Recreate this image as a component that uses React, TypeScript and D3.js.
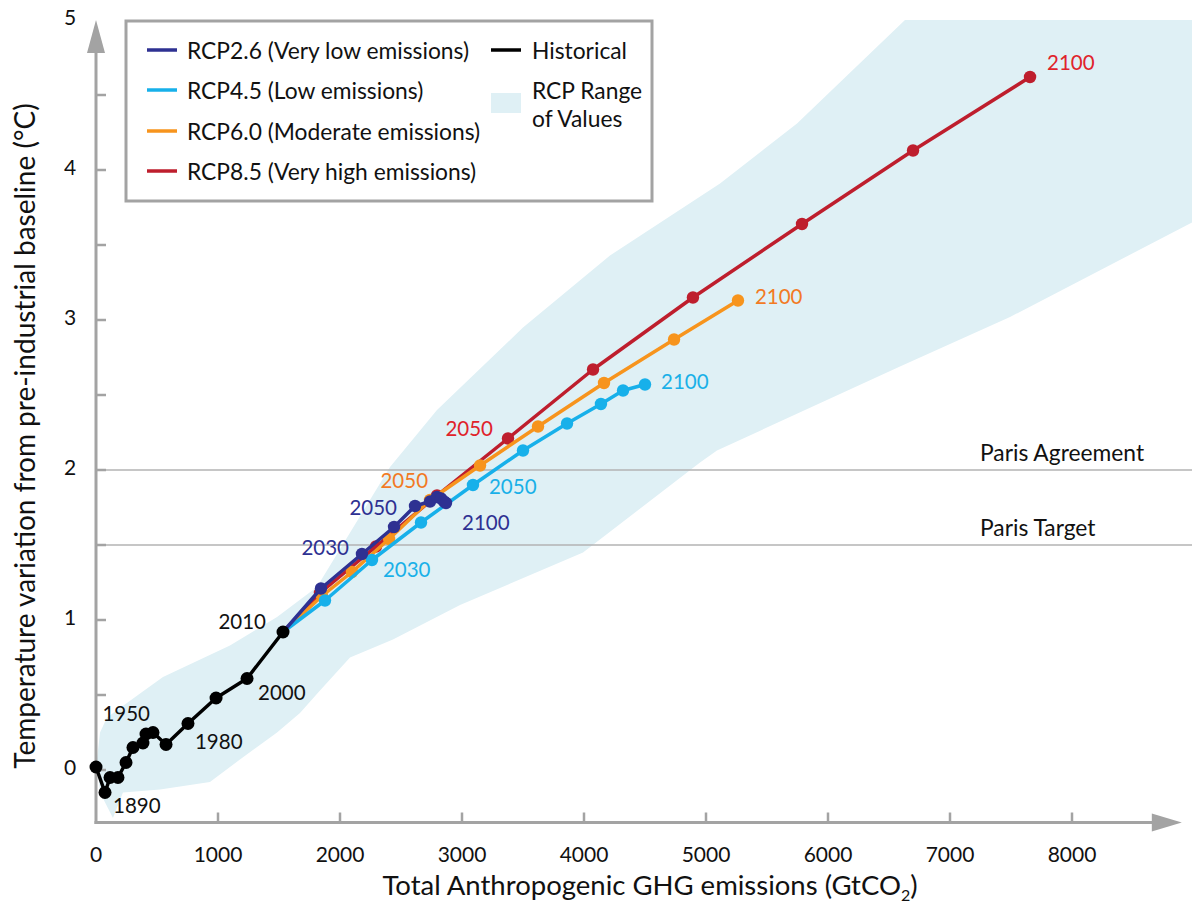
import React from "react";
import * as d3 from "d3";

// Historical record (decadal), cumulative emissions GtCO2 vs warming °C
const HIST_YEARS = [1880, 1890, 1900, 1910, 1920, 1930, 1940, 1950, 1960, 1970, 1980, 1990, 2000, 2010];
const HIST_EMISSIONS = [0, 74, 115, 180, 246, 303, 385, 410, 467, 574, 754, 984, 1238, 1533];
const HIST_TEMP = [0.02, -0.15, -0.05, -0.05, 0.05, 0.15, 0.18, 0.24, 0.25, 0.17, 0.31, 0.48, 0.61, 0.92];

// Scenario projections, 2010–2100 every decade
const RCP_YEARS = [2010, 2020, 2030, 2040, 2050, 2060, 2070, 2080, 2090, 2100];
const RCP26_EMISSIONS = [1533, 1844, 2180, 2443, 2615, 2738, 2795, 2828, 2853, 2869];
const RCP26_TEMP = [0.92, 1.21, 1.44, 1.62, 1.76, 1.79, 1.82, 1.81, 1.79, 1.78];
const RCP45_EMISSIONS = [1533, 1877, 2262, 2664, 3090, 3500, 3861, 4139, 4320, 4500];
const RCP45_TEMP = [0.92, 1.13, 1.4, 1.65, 1.9, 2.13, 2.31, 2.44, 2.53, 2.57];
const RCP60_EMISSIONS = [1533, 1852, 2098, 2402, 2738, 3148, 3623, 4164, 4738, 5262];
const RCP60_TEMP = [0.92, 1.16, 1.32, 1.54, 1.8, 2.03, 2.29, 2.58, 2.87, 3.13];
const RCP85_EMISSIONS = [1533, 1836, 2295, 2795, 3377, 4074, 4893, 5787, 6697, 7656];
const RCP85_TEMP = [0.92, 1.18, 1.49, 1.83, 2.21, 2.67, 3.15, 3.64, 4.13, 4.62];

// Envelope of all RCP values
const RANGE_UPPER_EMISSIONS = [8, 33, 90, 361, 549, 1098, 1484, 1811, 2410, 2795, 3500, 4213, 5115, 5746, 6631, 8984];
const RANGE_UPPER_TEMP = [0.07, 0.25, 0.35, 0.51, 0.62, 0.83, 1.02, 1.22, 2.02, 2.4, 2.95, 3.43, 3.91, 4.31, 5.0, 5.0];
const RANGE_LOWER_EMISSIONS = [8984, 7492, 6590, 5090, 4951, 3992, 2984, 2434, 2082, 1836, 1672, 1484, 1180, 934, 525, 221, 139, 33];
const RANGE_LOWER_TEMP = [3.65, 3.02, 2.69, 2.13, 2.05, 1.45, 1.1, 0.87, 0.75, 0.53, 0.38, 0.25, 0.07, -0.08, -0.13, -0.15, -0.32, -0.15];

const X_TICKS = [0, 1000, 2000, 3000, 4000, 5000, 6000, 7000, 8000];
const Y_TICKS = [0, 1, 2, 3, 4, 5];
const Y_TICK_MARKS = [0, 0.5, 1, 1.5, 2, 2.5, 3, 3.5, 4, 4.5];

const PARIS_LEVELS = [2, 1.5];
const PARIS_LABELS = ["Paris Agreement", "Paris Target"];

const SERIES_KEYS = ["rcp26", "rcp45", "rcp60", "rcp85"];
const SERIES_NAMES = [
  "RCP2.6 (Very low emissions)",
  "RCP4.5 (Low emissions)",
  "RCP6.0 (Moderate emissions)",
  "RCP8.5 (Very high emissions)",
];

const HIST_LABEL_YEARS = [1890, 1950, 1980, 2000, 2010];
const RCP_LABEL_YEARS: Record<string, number[]> = {
  rcp26: [2030, 2050, 2100],
  rcp45: [2030, 2050, 2100],
  rcp60: [2050, 2100],
  rcp85: [2050, 2100],
};

const LINE_COLORS: Record<string, string> = {
  hist: "#000000",
  rcp26: "#2e3192",
  rcp45: "#17b0ea",
  rcp60: "#f7941d",
  rcp85: "#be1e2d",
};
const LABEL_COLORS: Record<string, string> = {
  hist: "#111111",
  rcp26: "#2e3192",
  rcp45: "#1ab0e8",
  rcp60: "#f27a24",
  rcp85: "#e0232b",
};

// label placement relative to its point: [dx, dy, anchor]
const LABEL_OFFSETS: Record<string, [number, number, string]> = {
  "hist-1890": [8, 20, "start"],
  "hist-1950": [4, -13, "end"],
  "hist-1980": [7, 25, "start"],
  "hist-2000": [11, 21, "start"],
  "hist-2010": [-17, -3, "end"],
  "rcp26-2030": [-13, 1, "end"],
  "rcp26-2050": [-18, 9, "end"],
  "rcp26-2100": [16, 27, "start"],
  "rcp45-2030": [11, 17, "start"],
  "rcp45-2050": [16, 9, "start"],
  "rcp45-2100": [16, 4, "start"],
  "rcp60-2050": [-2, -12, "end"],
  "rcp60-2100": [17, 3, "start"],
  "rcp85-2050": [-15, -3, "end"],
  "rcp85-2100": [17, -7, "start"],
};

const FONT = "Lato, 'Noto Sans', sans-serif";
const AXIS_COLOR = "#a3a3a3";

type Pt = { x: number; y: number; year: number };

function zipSeries(years: number[], xs: number[], ys: number[]): Pt[] {
  return years.map((year, i) => ({ year, x: xs[i], y: ys[i] }));
}

export default function App() {
  const width = 1192;
  const height = 915;

  const x = d3.scaleLinear().domain([0, 8000]).range([96, 1072]);
  const y = d3.scaleLinear().domain([0, 5]).range([770, 20]);

  const axisBottom = y(-0.35);
  const axisLeft = x(0);
  const xArrowTip = x(8900);
  const yArrowTip = y(5);

  const series: Record<string, Pt[]> = {
    rcp26: zipSeries(RCP_YEARS, RCP26_EMISSIONS, RCP26_TEMP),
    rcp45: zipSeries(RCP_YEARS, RCP45_EMISSIONS, RCP45_TEMP),
    rcp60: zipSeries(RCP_YEARS, RCP60_EMISSIONS, RCP60_TEMP),
    rcp85: zipSeries(RCP_YEARS, RCP85_EMISSIONS, RCP85_TEMP),
  };
  const hist = zipSeries(HIST_YEARS, HIST_EMISSIONS, HIST_TEMP);

  const line = d3
    .line<Pt>()
    .x((d) => x(d.x))
    .y((d) => y(d.y));

  const rangePts: [number, number][] = [
    ...RANGE_UPPER_EMISSIONS.map((e, i) => [x(e), y(RANGE_UPPER_TEMP[i])] as [number, number]),
    ...RANGE_LOWER_EMISSIONS.map((e, i) => [x(e), y(RANGE_LOWER_TEMP[i])] as [number, number]),
  ];
  const rangePath = d3.line().curve(d3.curveLinearClosed)(rangePts) ?? "";

  const drawOrder = ["rcp85", "rcp60", "rcp45", "rcp26"];

  const labels: { key: string; pt: Pt; color: string }[] = [];
  HIST_LABEL_YEARS.forEach((yr) => {
    const pt = hist.find((d) => d.year === yr);
    if (pt) labels.push({ key: `hist-${yr}`, pt, color: LABEL_COLORS.hist });
  });
  SERIES_KEYS.forEach((k) => {
    RCP_LABEL_YEARS[k].forEach((yr) => {
      const pt = series[k].find((d) => d.year === yr);
      if (pt) labels.push({ key: `${k}-${yr}`, pt, color: LABEL_COLORS[k] });
    });
  });

  const legendRowY = [50, 90, 131, 171];
  const legendFont = 22.8;

  return (
    <svg
      width={width}
      height={height}
      style={{ position: "absolute", left: 0, top: 0, background: "#fff" }}
      fontFamily={FONT}
    >
      {/* RCP range envelope */}
      <path d={rangePath} fill="#dff0f5" />

      {/* Paris reference lines */}
      {PARIS_LEVELS.map((lvl, i) => (
        <g key={lvl}>
          <line x1={axisLeft} x2={width} y1={y(lvl)} y2={y(lvl)} stroke="#b3b3b3" strokeWidth={1.6} />
          <text x={980} y={y(lvl) - 9} fontSize={22.8} fill="#111">
            {PARIS_LABELS[i]}
          </text>
        </g>
      ))}

      {/* axes */}
      <line x1={axisLeft} x2={axisLeft} y1={axisBottom + 1.5} y2={yArrowTip + 30} stroke={AXIS_COLOR} strokeWidth={3} />
      <path
        d={`M${axisLeft},${yArrowTip} L${axisLeft - 9},${yArrowTip + 33} L${axisLeft + 9},${yArrowTip + 33} Z`}
        fill={AXIS_COLOR}
      />
      <line x1={axisLeft - 1.5} x2={xArrowTip - 25} y1={axisBottom} y2={axisBottom} stroke={AXIS_COLOR} strokeWidth={3} />
      <path
        d={`M${xArrowTip},${axisBottom} L${xArrowTip - 30},${axisBottom - 9} L${xArrowTip - 30},${axisBottom + 9} Z`}
        fill={AXIS_COLOR}
      />
      {Y_TICK_MARKS.map((t) => (
        <line key={t} x1={axisLeft} x2={axisLeft + 10} y1={y(t)} y2={y(t)} stroke={AXIS_COLOR} strokeWidth={2.5} />
      ))}
      {Y_TICKS.map((t) => (
        <text key={t} x={70} y={y(t)} dominantBaseline="middle" textAnchor="middle" fontSize={21} fill="#111">
          {t}
        </text>
      ))}
      {X_TICKS.map((t) => (
        <g key={t}>
          {t > 0 && (
            <line x1={x(t)} x2={x(t)} y1={axisBottom - 10} y2={axisBottom} stroke={AXIS_COLOR} strokeWidth={2.5} />
          )}
          <text x={x(t)} y={862} textAnchor="middle" fontSize={21} fill="#111">
            {t}
          </text>
        </g>
      ))}

      <text x={650} y={895} textAnchor="middle" fontSize={27.5} fill="#111">
        Total Anthropogenic GHG emissions (GtCO
        <tspan fontSize={16} dy={6}>2</tspan>
        <tspan dy={-6}>)</tspan>
      </text>
      <text
        transform={`translate(35,${436}) rotate(-90)`}
        textAnchor="middle"
        fontSize={28}
        fill="#111"
      >
        Temperature variation from pre-industrial baseline (°C)
      </text>

      {/* scenario lines */}
      {drawOrder.map((k) => (
        <g key={k}>
          <path d={line(series[k]) ?? ""} fill="none" stroke={LINE_COLORS[k]} strokeWidth={3.5} strokeLinejoin="round" />
          {series[k].slice(1).map((d) => (
            <circle key={d.year} cx={x(d.x)} cy={y(d.y)} r={6.2} fill={LINE_COLORS[k]} />
          ))}
        </g>
      ))}

      {/* historical */}
      <path d={line(hist) ?? ""} fill="none" stroke={LINE_COLORS.hist} strokeWidth={3.5} strokeLinejoin="round" />
      {hist.map((d) => (
        <circle key={d.year} cx={x(d.x)} cy={y(d.y)} r={6.5} fill={LINE_COLORS.hist} />
      ))}

      {/* year labels */}
      {labels.map(({ key, pt, color }) => {
        const [dx, dy, anchor] = LABEL_OFFSETS[key];
        return (
          <text
            key={key}
            x={x(pt.x) + dx}
            y={y(pt.y) + dy}
            textAnchor={anchor as "start" | "end"}
            fontSize={20.5}
            fill={color}
          >
            {pt.year}
          </text>
        );
      })}

      {/* legend */}
      <rect x={126} y={21} width={526} height={180} fill="#fff" stroke="#a3a3a3" strokeWidth={3} />
      {SERIES_KEYS.map((k, i) => (
        <g key={k}>
          <line x1={147} x2={177} y1={legendRowY[i]} y2={legendRowY[i]} stroke={LINE_COLORS[k]} strokeWidth={3.5} />
          <text x={187} y={legendRowY[i]} dominantBaseline="central" fontSize={legendFont} fill="#111">
            {SERIES_NAMES[i]}
          </text>
        </g>
      ))}
      <line x1={491} x2={521} y1={legendRowY[0]} y2={legendRowY[0]} stroke="#000" strokeWidth={3.5} />
      <text x={532} y={legendRowY[0]} dominantBaseline="central" fontSize={legendFont} fill="#111">
        Historical
      </text>
      <rect x={491} y={93} width={30} height={20} fill="#dff0f5" />
      <text x={532} y={90} dominantBaseline="central" fontSize={legendFont} fill="#111">
        RCP Range
      </text>
      <text x={532} y={118} dominantBaseline="central" fontSize={legendFont} fill="#111">
        of Values
      </text>
    </svg>
  );
}
